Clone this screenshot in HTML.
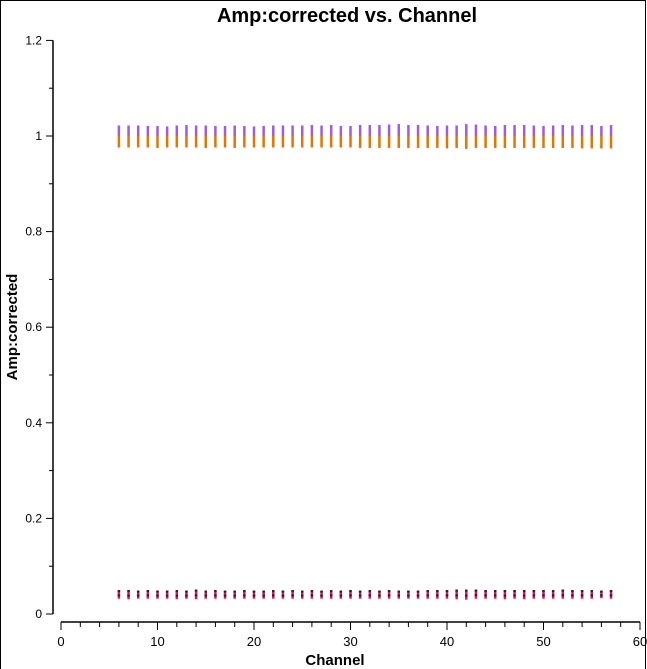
<!DOCTYPE html>
<html><head><meta charset="utf-8"><style>
body{margin:0;background:#fff;}
svg{display:block;font-family:"Liberation Sans",sans-serif;}
</style></head><body>
<svg id="c" width="647" height="669">
<rect x="0.5" y="0.5" width="645" height="675" fill="none" stroke="#000"/>
<text x="347" y="22" text-anchor="middle" font-size="20" font-weight="bold">Amp:corrected vs. Channel</text>
<text x="335" y="665" text-anchor="middle" font-size="15" font-weight="bold">Channel</text>
<text transform="translate(17,327) rotate(-90)" text-anchor="middle" font-size="15" font-weight="bold">Amp:corrected</text>
<g id="axes"></g><g id="marks"></g>
</svg>
<script>
const channels=[6,7,8,9,10,11,12,13,14,15,16,17,18,19,20,21,22,23,24,25,26,27,28,29,30,31,32,33,34,35,36,37,38,39,40,41,42,43,44,45,46,47,48,49,50,51,52,53,54,55,56,57];
const purpleTop=[1.022,1.022,1.022,1.021,1.021,1.020,1.022,1.023,1.022,1.022,1.021,1.021,1.022,1.021,1.020,1.021,1.022,1.022,1.022,1.022,1.023,1.022,1.023,1.021,1.021,1.023,1.023,1.023,1.024,1.025,1.023,1.023,1.022,1.021,1.022,1.022,1.025,1.024,1.022,1.021,1.023,1.023,1.023,1.022,1.021,1.022,1.023,1.022,1.023,1.023,1.021,1.023];
const orangeBottom=[0.976,0.976,0.976,0.976,0.975,0.976,0.976,0.976,0.976,0.975,0.976,0.976,0.975,0.976,0.976,0.976,0.976,0.976,0.976,0.976,0.976,0.976,0.976,0.976,0.976,0.975,0.975,0.975,0.975,0.975,0.975,0.975,0.975,0.975,0.974,0.975,0.973,0.975,0.975,0.975,0.975,0.975,0.975,0.975,0.975,0.975,0.975,0.975,0.974,0.974,0.974,0.974];
const lowTop=[0.050,0.050,0.049,0.050,0.049,0.049,0.050,0.049,0.051,0.049,0.050,0.049,0.049,0.050,0.049,0.049,0.050,0.049,0.050,0.049,0.050,0.049,0.050,0.049,0.050,0.049,0.050,0.049,0.050,0.049,0.049,0.049,0.050,0.050,0.050,0.051,0.051,0.051,0.050,0.050,0.050,0.050,0.050,0.050,0.050,0.050,0.051,0.050,0.050,0.050,0.049,0.050];
const lowBottom=[0.032,0.031,0.032,0.032,0.032,0.032,0.031,0.032,0.031,0.032,0.032,0.032,0.032,0.032,0.032,0.032,0.032,0.032,0.032,0.032,0.032,0.032,0.032,0.032,0.032,0.032,0.032,0.032,0.032,0.032,0.032,0.032,0.032,0.032,0.032,0.031,0.030,0.032,0.032,0.032,0.031,0.032,0.031,0.032,0.032,0.032,0.032,0.032,0.032,0.032,0.033,0.032];
const xTicks=[0,10,20,30,40,50,60];
const yTicks=[0,0.2,0.4,0.6,0.8,1,1.2];
const yTickLabels=["0","0.2","0.4","0.6","0.8","1","1.2"];
const NS="http://www.w3.org/2000/svg";
const X=v=>61+v*9.65, Y=v=>614-v*478;
function mk(t,a,p){const e=document.createElementNS(NS,t);for(const k in a)e.setAttribute(k,a[k]);p.appendChild(e);return e;}
const ax=document.getElementById('axes'), mg=document.getElementById('marks');
let l=mk('line',{x1:53,y1:Y(1.2),x2:53,y2:Y(0),stroke:'#000','stroke-width':1.5},ax);


l=mk('line',{x1:X(0),y1:622,x2:X(60),y2:622,stroke:'#000','stroke-width':1.5},ax);


for(let v=0;v<=60.01;v+=2){const maj=xTicks.includes(Math.round(v));mk('line',{x1:X(v),y1:622,x2:X(v),y2:maj?630:627,stroke:'#000'},ax);}
xTicks.forEach(v=>{const t=mk('text',{x:X(v),y:646,'text-anchor':'middle','font-size':13},ax);t.textContent=v;

});
for(let i=0;i<=12;i++){const v=i*0.1;mk('line',{x1:53,y1:Y(v),x2:i%2==0?46:49,y2:Y(v),stroke:'#000'},ax);}
yTicks.forEach((v,i)=>{const t=mk('text',{x:42,y:Y(v)+4,'text-anchor':'end','font-size':12},ax);t.textContent=yTickLabels[i];

});
channels.forEach((c,i)=>{const x=X(c);
let r=mk('rect',{x:x-1.25,y:Y(purpleTop[i]),width:2.5,height:Y(1.0)-Y(purpleTop[i]),fill:'#a05ce0'},mg);


r=mk('rect',{x:x-1.25,y:Y(1.0),width:2.5,height:Y(orangeBottom[i])-Y(1.0),fill:'#e07800'},mg);


r=mk('rect',{x:x-1.25,y:Y(lowTop[i]),width:2.5,height:Y(lowBottom[i])-Y(lowTop[i]),fill:'#e8106a'},mg);


const mid=(lowTop[i]+lowBottom[i])/2;
[lowTop[i],mid].forEach(v=>{const d=mk('rect',{x:x-1.25,y:Y(v),width:2.5,height:2,fill:'#222'},mg);

});
});
</script>
</body></html>
